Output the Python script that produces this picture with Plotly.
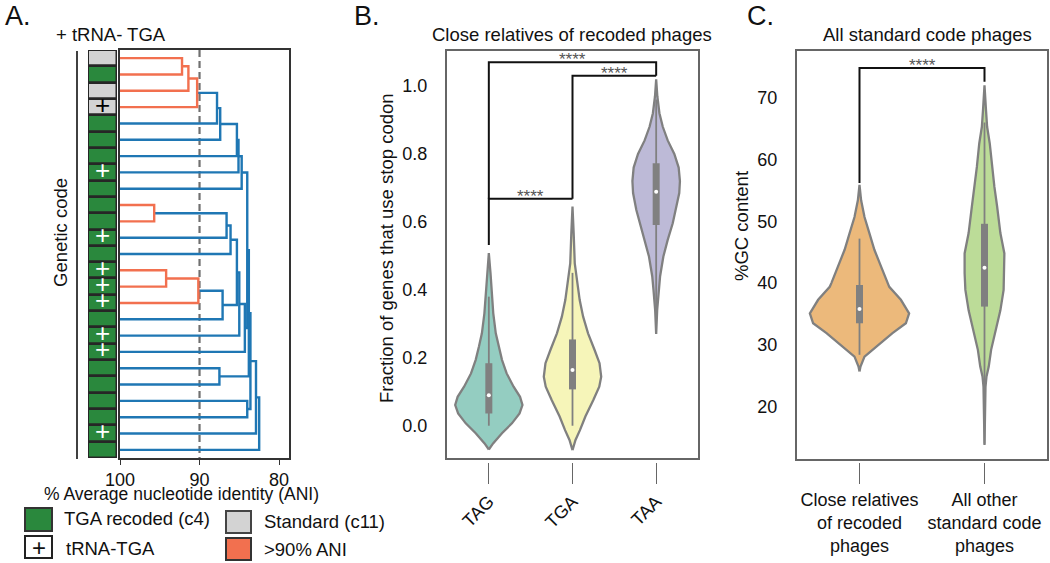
import plotly.graph_objects as go

W, H = 1050, 563
def PX(x): return x / W
def PY(y): return 1 - y / H

FONT = "Liberation Sans, Arial, sans-serif"

# ---------------- Panel A data ----------------
leaf_code = ["std", "c4", "std", "std"] + ["c4"] * 21
leaf_trna = [0, 0, 0, 1, 0, 0, 0, 1, 0, 0, 0, 1, 0, 1, 1, 1, 0, 1, 1, 0, 0, 0, 0, 1, 0]
# linkage: node ids 0..24 are leaves, 25+k is k-th merge
link_left = [0, 25, 26, 27, 28, 29, 30, 31, 9, 33, 34, 13, 36, 37, 35, 39, 40, 32, 19, 42, 21, 44, 46, 47]
link_right = [1, 2, 3, 4, 5, 6, 7, 8, 10, 11, 12, 14, 15, 16, 38, 17, 18, 41, 20, 43, 22, 45, 23, 24]
link_ani = [92.2, 91.4, 90.3, 87.8, 87.4, 85.3, 85.1, 84.7, 95.7, 86.6, 86.1, 94.2, 90.15, 87.1,
            85.3, 85.0, 84.3, 84.0, 87.5, 83.8, 84.0, 83.6, 82.9, 82.5]
ani_threshold = 90
ani_ticks = [100, 90, 80]

# ---------------- Panel B data ----------------
codons = ["TAG", "TGA", "TAA"]
tag_v = [-0.070, -0.052, -0.022, 0.007, 0.036, 0.061, 0.085, 0.115, 0.154, 0.194, 0.233, 0.272, 0.331, 0.390, 0.449, 0.508]
tag_w = [0, .051, .157, .276, .367, .402, .373, .296, .213, .157, .118, .083, .053, .036, .020, 0]
tga_v = [-0.072, -0.042, -0.013, 0.027, 0.076, 0.115, 0.144, 0.184, 0.223, 0.272, 0.321, 0.370, 0.419, 0.478, 0.567, 0.645]
tga_w = [0, .036, .089, .154, .249, .320, .343, .323, .264, .186, .127, .086, .059, .027, .014, 0]
taa_v = [0.27, 0.34, 0.40, 0.44, 0.498, 0.547, 0.596, 0.635, 0.685, 0.72, 0.76, 0.80, 0.84, 0.88, 0.92, 0.97, 1.02]
taa_w = [0, .012, .032, .047, .086, .138, .198, .237, .276, .284, .269, .217, .138, .079, .039, .014, 0]
codon_q1 = [0.036, 0.107, 0.591]
codon_med = [0.090, 0.164, 0.689]
codon_q3 = [0.184, 0.254, 0.773]
codon_lo = [0.0, 0.0, 0.33]
codon_hi = [0.38, 0.45, 0.96]
codon_colors = ["#94cdc1", "#f6f5b9", "#bdbad7"]
b_pair_x1 = [0, 0, 1]
b_pair_x2 = [1, 2, 2]
b_pair_top = [0.668, 1.070, 1.030]
b_pair_low1 = [0.532, 0.668, 0.668]
b_pair_low2 = [0.668, 1.030, 1.030]
b_pair_label = ["****", "****", "****"]

# ---------------- Panel C data ----------------
groups = ["Close relatives<br>of recoded<br>phages", "All other<br>standard code<br>phages"]
rel_v = [25.7, 26.5, 28.1, 29.7, 31.9, 33.5, 35.1, 37.3, 39.4, 40.0, 42.7, 45.4, 48.1, 50.7, 53.4, 55.9]
rel_w = [0, .008, .040, .133, .264, .371, .397, .331, .238, .225, .172, .119, .079, .040, .013, 0]
oth_v = [13.8, 23.2, 24.9, 26.5, 29.2, 32.4, 35.6, 38.9, 41.6, 44.8, 48.1, 52.4, 55.6, 58.8, 62.6, 65.3, 68.0, 72.0]
oth_w = [0, .008, .016, .034, .053, .087, .127, .153, .159, .159, .127, .101, .079, .061, .042, .021, .012, 0]
gc_q1 = [33.5, 36.2]
gc_med = [35.8, 42.5]
gc_q3 = [39.7, 49.6]
gc_lo = [28.4, 14.0]
gc_hi = [47.2, 66.0]
gc_colors = ["#ecb97b", "#bcdc98"]
c_pair_x1 = [0]
c_pair_x2 = [1]
c_pair_top = [74.8]
c_pair_low1 = [56.2]
c_pair_low2 = [72.6]
c_pair_label = ["****"]

GREEN = "#2a883d"
GRAY_CELL = "#d3d3d3"
RED = "#f2704f"
BLUE = "#1f77b4"
VGRAY = "#808080"

fig = go.Figure()

# ---------------- Panel A: dendrogram ----------------
n_leaves = len(leaf_code)
pos = {i: float(i) for i in range(n_leaves)}
hgt = {i: 100.0 for i in range(n_leaves)}
rx, ry, bx, by = [], [], [], []
for k, (a, b, h) in enumerate(zip(link_left, link_right, link_ani)):
    xs = [hgt[a], h, h, hgt[b], None]
    ys = [pos[a], pos[a], pos[b], pos[b], None]
    if h > ani_threshold:
        rx += xs; ry += ys
    else:
        bx += xs; by += ys
    pos[n_leaves + k] = (pos[a] + pos[b]) / 2
    hgt[n_leaves + k] = h

fig.add_trace(go.Scatter(x=[ani_threshold, ani_threshold], y=[-0.5, n_leaves - 0.5], mode="lines",
                         line=dict(color="#707070", width=2.2, dash="7px,4px"),
                         xaxis="x", yaxis="y", hoverinfo="skip", showlegend=False))
fig.add_trace(go.Scatter(x=bx, y=by, mode="lines", line=dict(color=BLUE, width=2.4),
                         xaxis="x", yaxis="y", hoverinfo="skip", showlegend=False))
fig.add_trace(go.Scatter(x=rx, y=ry, mode="lines", line=dict(color=RED, width=2.4),
                         xaxis="x", yaxis="y", hoverinfo="skip", showlegend=False))

# genetic code cells
cell_colors = [GREEN if c == "c4" else GRAY_CELL for c in leaf_code]
fig.add_trace(go.Bar(orientation="h", y=list(range(n_leaves)), x=[1] * n_leaves, base=0, width=1,
                     marker=dict(color=cell_colors, line=dict(color="#262626", width=2.5)),
                     xaxis="x2", yaxis="y", hoverinfo="skip", showlegend=False))
plus_y = [i for i, t in enumerate(leaf_trna) if t]
plus_col = ["white" if leaf_code[i] == "c4" else "black" for i in plus_y]
fig.add_trace(go.Scatter(x=[0.5] * len(plus_y), y=plus_y, mode="text", text=["+"] * len(plus_y),
                         textfont=dict(color=plus_col, size=26, family=FONT), textposition="middle center",
                         xaxis="x2", yaxis="y", hoverinfo="skip", showlegend=False))

# ---------------- helper: violin ----------------
def add_violin(c, vals, widths, color, q1, med, q3, lo, hi, xa, ya, bw):
    xs = [c - w for w in widths] + [c + w for w in reversed(widths)]
    ys = list(vals) + list(reversed(vals))
    fig.add_trace(go.Scatter(x=xs, y=ys, mode="lines", fill="toself", fillcolor=color,
                             line=dict(color=VGRAY, width=2.3), xaxis=xa, yaxis=ya,
                             hoverinfo="skip", showlegend=False))
    fig.add_trace(go.Scatter(x=[c, c], y=[lo, hi], mode="lines", line=dict(color=VGRAY, width=1.8),
                             xaxis=xa, yaxis=ya, hoverinfo="skip", showlegend=False))
    fig.add_trace(go.Scatter(x=[c, c], y=[q1, q3], mode="lines", line=dict(color=VGRAY, width=bw),
                             xaxis=xa, yaxis=ya, hoverinfo="skip", showlegend=False))
    fig.add_trace(go.Scatter(x=[c], y=[med], mode="markers", marker=dict(color="white", size=4),
                             xaxis=xa, yaxis=ya, hoverinfo="skip", showlegend=False))

def add_brackets(x1s, x2s, tops, l1s, l2s, labels, xa, ya, yshift):
    lx, ly = [], []
    for x1, x2, t, l1, l2 in zip(x1s, x2s, tops, l1s, l2s):
        lx += [x1, x1, x2, x2, None]
        ly += [l1, t, t, l2, None]
    fig.add_trace(go.Scatter(x=lx, y=ly, mode="lines", line=dict(color="#111111", width=2),
                             xaxis=xa, yaxis=ya, hoverinfo="skip", showlegend=False))
    for x1, x2, t, lab in zip(x1s, x2s, tops, labels):
        fig.add_annotation(x=(x1 + x2) / 2, y=t, xref=xa, yref=ya, text=lab, showarrow=False,
                           yanchor="bottom", yshift=yshift,
                           font=dict(size=17, color="#555555", family=FONT))

# ---------------- Panel B ----------------
b_vals = [tag_v, tga_v, taa_v]
b_wids = [tag_w, tga_w, taa_w]
for i in range(3):
    add_violin(i, b_vals[i], b_wids[i], codon_colors[i], codon_q1[i], codon_med[i], codon_q3[i],
               codon_lo[i], codon_hi[i], "x3", "y3", 7)
add_brackets(b_pair_x1, b_pair_x2, b_pair_top, b_pair_low1, b_pair_low2, b_pair_label, "x3", "y3", -9)
fig.add_trace(go.Scatter(x=[0], y=[-5], mode="markers", marker=dict(opacity=0), xaxis="x4", yaxis="y3",
                         hoverinfo="skip", showlegend=False))

# ---------------- Panel C ----------------
c_vals = [rel_v, oth_v]
c_wids = [rel_w, oth_w]
for i in range(2):
    add_violin(i, c_vals[i], c_wids[i], gc_colors[i], gc_q1[i], gc_med[i], gc_q3[i],
               gc_lo[i], gc_hi[i], "x5", "y5", 7)
add_brackets(c_pair_x1, c_pair_x2, c_pair_top, c_pair_low1, c_pair_low2, c_pair_label, "x5", "y5", -9)
fig.add_trace(go.Scatter(x=[0], y=[-100], mode="markers", marker=dict(opacity=0), xaxis="x6", yaxis="y5",
                         hoverinfo="skip", showlegend=False))

# ---------------- Layout ----------------
tickfont = dict(size=18, color="#111111", family=FONT)
frame = dict(showline=True, mirror=True, linecolor="#666666", linewidth=2, showgrid=False,
             zeroline=False, automargin=False)

fig.update_layout(
    width=W, height=H, margin=dict(l=0, r=0, t=0, b=0, pad=0), autosize=False,
    paper_bgcolor="white", plot_bgcolor="rgba(0,0,0,0)",
    font=dict(family=FONT, size=18, color="#111111"),
    showlegend=False, bargap=0,
    # Panel A dendrogram
    xaxis=dict(domain=[PX(120), PX(289)], range=[100, 78.75], anchor="y",
               showline=True, mirror=True, linecolor="#333333", linewidth=1.5, automargin=False,
               showgrid=False, zeroline=False, tickvals=ani_ticks, ticks="outside",
               ticklen=5, tickwidth=1.3, tickcolor="#333333", tickfont=tickfont),
    yaxis=dict(domain=[PY(458), PY(50)], range=[n_leaves - 0.5, -0.5], anchor="x",
               showline=True, mirror=True, linecolor="#333333", linewidth=1.5, automargin=False,
               showgrid=False, zeroline=False, showticklabels=False, ticks=""),
    xaxis2=dict(domain=[PX(88), PX(117)], range=[0, 1], anchor="y", visible=False,
                fixedrange=True, automargin=False),
    # Panel B
    xaxis3=dict(domain=[PX(447), PX(698)], range=[-0.5, 2.5], anchor="y3",
                showticklabels=False, ticks="", **frame),
    yaxis3=dict(domain=[PY(458), PY(50.7)], range=[-0.095, 1.104], anchor="x3",
                tickvals=[0, 0.2, 0.4, 0.6, 0.8, 1.0], tickformat=".1f", ticks="",
                ticklabelstandoff=14, tickfont=tickfont, **frame),
    xaxis4=dict(overlaying="x3", anchor="free", position=PY(462), range=[-0.5, 2.5],
                tickvals=[0, 1, 2], ticktext=codons, ticks="outside", ticklen=21, tickwidth=1.3,
                tickcolor="#666666", tickangle=-45, tickfont=tickfont, showline=False,
                showgrid=False, zeroline=False, automargin=False),
    # Panel C
    xaxis5=dict(domain=[PX(797), PX(1047)], range=[-0.5, 1.5], anchor="y5",
                showticklabels=False, ticks="", **frame),
    yaxis5=dict(domain=[PY(459), PY(51)], range=[11.54, 77.56], anchor="x5",
                tickvals=[20, 30, 40, 50, 60, 70], ticks="", ticklabelstandoff=14,
                tickfont=tickfont, **frame),
    xaxis6=dict(overlaying="x5", anchor="free", position=PY(462), range=[-0.5, 1.5],
                tickvals=[0, 1], ticktext=groups, ticks="outside", ticklen=21, tickwidth=1.3,
                tickcolor="#666666", tickangle=0, tickfont=tickfont, showline=False,
                showgrid=False, zeroline=False, automargin=False),
)

# ---------------- text annotations ----------------
def txt(x, y, s, size=18, xanchor="center", yanchor="middle", angle=0, color="#111111"):
    fig.add_annotation(x=PX(x), y=PY(y), xref="paper", yref="paper", text=s, showarrow=False,
                       xanchor=xanchor, yanchor=yanchor, textangle=angle,
                       font=dict(size=size, color=color, family=FONT))

txt(3, 16, "A.", size=27, xanchor="left")
txt(352, 16, "B.", size=27, xanchor="left")
txt(745, 16, "C.", size=27, xanchor="left")
txt(54, 35, "+ tRNA- TGA", size=18.5, xanchor="left")
txt(61, 233, "Genetic code", size=18.5, angle=-90)
txt(181, 494, "% Average nucleotide identity (ANI)", size=17.5)
txt(572, 35, "Close relatives of recoded phages", size=18.5)
txt(386, 248, "Fraction of genes that use stop codon", size=18.5, angle=-90)
txt(927, 35, "All standard code phages", size=18.5)
txt(742, 226, "%GC content", size=18.5, angle=-90)

# vertical bracket line left of the genetic-code column
fig.add_shape(type="line", xref="paper", yref="paper", x0=PX(77), x1=PX(77), y0=PY(51), y1=PY(459),
              line=dict(color="#111111", width=1.6))

# legend (panel A)
legend_items = [
    (25, 508, 52, 531, GREEN, "#333333", "", "TGA recoded (c4)", 62, 518),
    (226, 511, 251, 533, GRAY_CELL, "#444444", "", "Standard (c11)", 262, 521),
    (25, 536, 52, 558, "white", "#222222", "+", "tRNA-TGA", 64, 548),
    (226, 538, 251, 560, RED, "#333333", "", ">90% ANI", 262, 549),
]
for x0, y0, x1, y1, fc, lc, mark, label, tx, ty in legend_items:
    fig.add_shape(type="rect", xref="paper", yref="paper", x0=PX(x0), x1=PX(x1), y0=PY(y1), y1=PY(y0),
                  fillcolor=fc, line=dict(color=lc, width=2))
    if mark:
        txt((x0 + x1) / 2, (y0 + y1) / 2, mark, size=24)
    txt(tx, ty, label, size=18.5, xanchor="left")

fig.write_html("out.html", config={"displayModeBar": False},
               post_script="document.body.style.margin='0';document.body.style.overflow='hidden';")
